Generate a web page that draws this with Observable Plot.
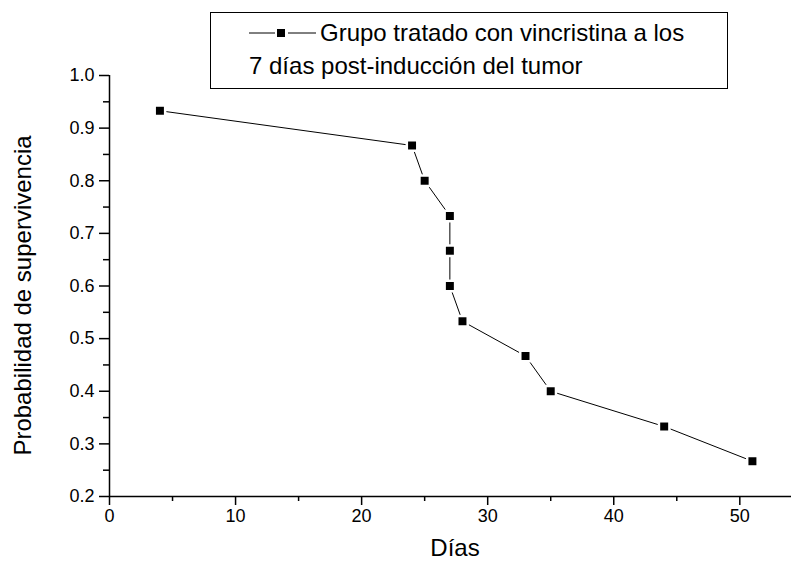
<!DOCTYPE html>
<html>
<head>
<meta charset="utf-8">
<script src="https://cdn.jsdelivr.net/npm/d3@7"></script>
<script src="https://cdn.jsdelivr.net/npm/@observablehq/plot@0.6"></script>
<style>
  body { margin: 0; background: #fff; }
  #wrap { position: relative; width: 791px; height: 565px; font-family: "Liberation Sans", Arial, sans-serif; color: #000; }
  #legend { position: absolute; left: 210px; top: 12px; width: 518px; height: 77px; border: 1px solid #000; box-sizing: border-box; background: #fff; font-size: 24px; line-height: 24px; }
  #legend .t { position: absolute; white-space: nowrap; }
  #legend svg { position: absolute; left: 0; top: 0; }
</style>
</head>
<body>
<div id="wrap">
  <div id="chart"></div>
  <div id="legend"></div>
</div>
<script>
// Data
const days = [4, 24, 25, 27, 27, 27, 28, 33, 35, 44, 51];
const survival = [0.933, 0.867, 0.800, 0.733, 0.667, 0.600, 0.533, 0.467, 0.400, 0.333, 0.267];
const xTicks = [0, 10, 20, 30, 40, 50];
const xMinorTicks = [5, 15, 25, 35, 45];
const yTicks = [0.2, 0.3, 0.4, 0.5, 0.6, 0.7, 0.8, 0.9, 1.0];
const yMinorTicks = [0.25, 0.35, 0.45, 0.55, 0.65, 0.75, 0.85, 0.95];
const xTitle = "Días";
const yTitle = "Probabilidad de supervivencia";
const legendLine1 = "Grupo tratado con vincristina a los";
const legendLine2 = "7 días post-inducción del tumor";

const data = days.map((d, i) => ({day: d, p: survival[i]}));

const chart = Plot.plot({
  width: 791,
  height: 565,
  marginLeft: 109,
  marginRight: 0,
  marginTop: 75,
  marginBottom: 69,
  style: {fontFamily: "'Liberation Sans', Arial, sans-serif", fontSize: "18px", color: "#000", background: "#fff"},
  x: {domain: [0, 54.1]},
  y: {domain: [0.2, 1.0]},
  marks: [
    Plot.ruleY([0.2], {stroke: "#000", strokeWidth: 1.5}),
    Plot.ruleX([0], {stroke: "#000", strokeWidth: 1.5}),
    Plot.axisX(xTicks, {tickSize: 9, tickPadding: 4, tickFormat: d => String(d), label: null, strokeWidth: 1.5}),
    Plot.axisX(xMinorTicks, {tickSize: 5, tickFormat: () => "", label: null, strokeWidth: 1.5}),
    Plot.axisY(yTicks, {tickSize: 10, tickPadding: 5, tickFormat: d => d.toFixed(1), label: null, strokeWidth: 1.5}),
    Plot.axisY(yMinorTicks, {tickSize: 6, tickFormat: () => "", label: null, strokeWidth: 1.5}),
    Plot.line(data, {x: "day", y: "p", stroke: "#000", strokeWidth: 1}),
    Plot.dot(data, {x: "day", y: "p", symbol: "square", r: 7.3, fill: "#fff", stroke: "none"}),
    Plot.dot(data, {x: "day", y: "p", symbol: "square", r: 4.5, fill: "#000", stroke: "none"})
  ]
});
document.getElementById("chart").appendChild(chart);

// Axis titles
const svg = d3.select(chart);
const xs = chart.scale("x"), ys = chart.scale("y");
const xMid = (xs.range[0] + xs.range[1]) / 2;
const yMid = (ys.range[0] + ys.range[1]) / 2;
svg.append("text")
  .attr("x", xMid + 5).attr("y", 556)
  .attr("text-anchor", "middle")
  .attr("font-size", 24)
  .attr("fill", "#000")
  .text(xTitle);
svg.append("text")
  .attr("transform", `translate(31,${yMid + 10}) rotate(-90)`)
  .attr("text-anchor", "middle")
  .attr("font-size", 24)
  .attr("fill", "#000")
  .text(yTitle);

// Legend
const legend = d3.select("#legend");
const ls = legend.append("svg").attr("width", 110).attr("height", 40);
ls.append("line").attr("x1", 38).attr("x2", 105).attr("y1", 20).attr("y2", 20).attr("stroke", "#000").attr("stroke-width", 1);
ls.append("rect").attr("x", 64).attr("y", 14).attr("width", 13).attr("height", 13).attr("fill", "#fff");
ls.append("rect").attr("x", 66).attr("y", 16).attr("width", 8).attr("height", 8).attr("fill", "#000");
legend.append("div").attr("class", "t").style("left", "109px").style("top", "8px").text(legendLine1);
legend.append("div").attr("class", "t").style("left", "38px").style("top", "41px").text(legendLine2);
</script>
</body>
</html>
